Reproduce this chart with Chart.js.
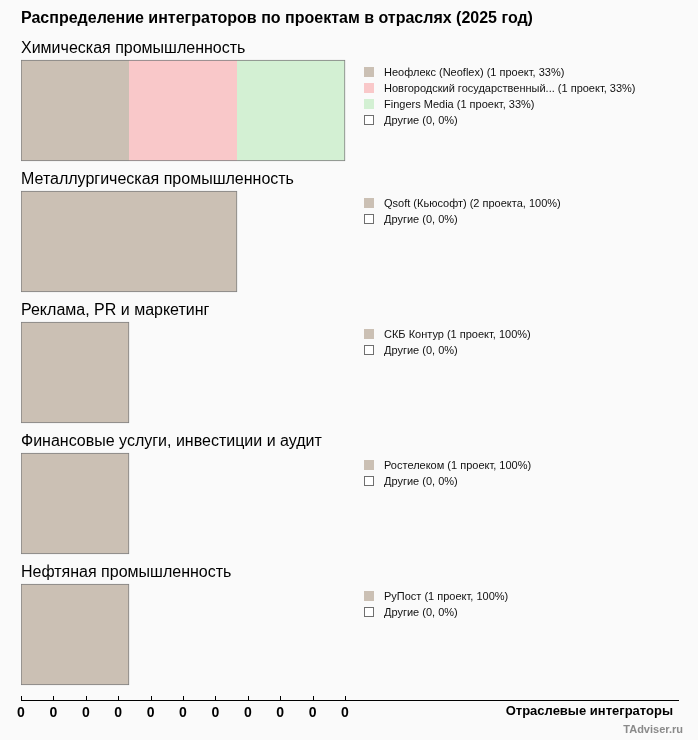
<!DOCTYPE html>
<html><head><meta charset="utf-8">
<script src="https://cdn.jsdelivr.net/npm/chart.js@4.4.1/dist/chart.umd.min.js"></script>
<style>
html,body{margin:0;padding:0;background:#fafafa;}
#wrap{position:relative;width:698px;height:740px;}
</style></head><body>
<div id="wrap"><canvas id="c" width="698" height="740"></canvas></div>
<script>
const chartTitle = 'Распределение интеграторов по проектам в отраслях (2025 год)';
const industries = [
  'Химическая промышленность',
  'Металлургическая промышленность',
  'Реклама, PR и маркетинг',
  'Финансовые услуги, инвестиции и аудит',
  'Нефтяная промышленность'
];
const integratorNames = [
  ['Неофлекс (Neoflex)', 'Новгородский государственный...', 'Fingers Media'],
  ['Qsoft (Кьюсофт)'],
  ['СКБ Контур'],
  ['Ростелеком'],
  ['РуПост']
];
const integratorProjects = [
  [1, 1, 1],
  [2],
  [1],
  [1],
  [1]
];
const otherLabel = 'Другие';
const otherProjects = [0, 0, 0, 0, 0];
const slotColors = ['#cbc0b4', '#f9c8c9', '#d3f0d3'];
const xTickValues = [0, 0.3, 0.6, 0.9, 1.2, 1.5, 1.8, 2.1, 2.4, 2.7, 3];
const xTickLabels = ['0', '0', '0', '0', '0', '0', '0', '0', '0', '0', '0'];
const xAxisTitle = 'Отраслевые интеграторы';
const creditText = 'TAdviser.ru';

const FONT = '"Liberation Sans", Arial, sans-serif';
Chart.defaults.font.family = FONT;

function plural(n) {
  const m10 = n % 10, m100 = n % 100;
  if (m10 === 1 && m100 !== 11) return 'проект';
  if (m10 >= 2 && m10 <= 4 && (m100 < 12 || m100 > 14)) return 'проекта';
  return 'проектов';
}

const maxSlots = Math.max(...integratorProjects.map(a => a.length));
const datasets = [];
for (let k = 0; k < maxSlots; k++) {
  datasets.push({
    label: 'slot' + k,
    data: integratorProjects.map(a => (a[k] !== undefined ? a[k] : null)),
    backgroundColor: slotColors[k],
    borderColor: '#7f7f7f',
    borderSkipped: false,
    borderWidth: (ctx) => {
      const i = ctx.dataIndex;
      const last = integratorProjects[i] ? integratorProjects[i].length - 1 : 0;
      return { top: 1, bottom: 1, left: k === 0 ? 1 : 0, right: k === last ? 1 : 0 };
    },
    barThickness: 101
  });
}

const decor = {
  id: 'decor',
  afterDraw(chart) {
    const ctx = chart.ctx;
    const xs = chart.scales.x;
    const area = chart.chartArea;
    ctx.save();
    // title
    ctx.fillStyle = '#000';
    ctx.font = 'bold 16px ' + FONT;
    ctx.textBaseline = 'alphabetic';
    ctx.textAlign = 'left';
    ctx.fillText(chartTitle, area.left, 23);

    const meta = chart.getDatasetMeta(0);
    industries.forEach((name, i) => {
      const el = meta.data[i];
      const top = el.y - el.height / 2;
      ctx.font = '16px ' + FONT;
      ctx.fillStyle = '#000';
      ctx.textAlign = 'left';
      ctx.textBaseline = 'alphabetic';
      ctx.fillText(name, area.left, top - 7);

      const total = integratorProjects[i].reduce((a, b) => a + b, 0) + otherProjects[i];
      const rows = integratorNames[i].map((n, k) => {
        const p = integratorProjects[i][k];
        return { text: `${n} (${p} ${plural(p)}, ${Math.round(p / total * 100)}%)`, color: slotColors[k] };
      });
      rows.push({ text: `${otherLabel} (${otherProjects[i]}, ${Math.round(otherProjects[i] / total * 100)}%)`, color: null });
      const lx = area.left + 343;
      rows.forEach((r, j) => {
        const cy = Math.round(top + 12 + 16 * j);
        if (r.color) {
          ctx.fillStyle = r.color;
          ctx.fillRect(lx, cy - 5, 10, 10);
        } else {
          ctx.fillStyle = '#ffffff';
          ctx.fillRect(lx, cy - 5, 10, 10);
          ctx.strokeStyle = '#6f6f6f';
          ctx.lineWidth = 1;
          ctx.strokeRect(lx + 0.5, cy - 4.5, 9, 9);
        }
        ctx.fillStyle = '#111';
        ctx.font = '11px ' + FONT;
        ctx.textBaseline = 'middle';
        ctx.fillText(r.text, lx + 20, cy + 0.5);
      });
    });

    // upward tick marks
    ctx.strokeStyle = '#000';
    ctx.lineWidth = 1;
    xTickValues.forEach(v => {
      const x = Math.round(xs.getPixelForValue(v)) + 0.5;
      ctx.beginPath();
      ctx.moveTo(x, area.bottom);
      ctx.lineTo(x, area.bottom - 4);
      ctx.stroke();
    });

    // axis title
    ctx.fillStyle = '#000';
    ctx.font = 'bold 13px ' + FONT;
    ctx.textAlign = 'right';
    ctx.textBaseline = 'alphabetic';
    ctx.fillText(xAxisTitle, 673, area.bottom + 15);

    ctx.fillStyle = '#8a8a8a';
    ctx.font = 'bold 11px ' + FONT;
    ctx.fillText(creditText, 683, area.bottom + 33);
    ctx.restore();
  }
};

new Chart(document.getElementById('c'), {
  type: 'bar',
  data: { labels: industries, datasets },
  options: {
    indexAxis: 'y',
    responsive: false,
    animation: false,
    devicePixelRatio: 1,
    layout: { padding: { left: 21, right: 20, top: 45, bottom: 0 } },
    plugins: { legend: { display: false }, title: { display: false }, tooltip: { enabled: false } },
    scales: {
      x: {
        stacked: true,
        min: 0,
        max: 6.083,
        position: 'bottom',
        afterFit(s) { s.height = 40; },
        afterBuildTicks(s) { s.ticks = xTickValues.map(v => ({ value: v })); },
        ticks: {
          autoSkip: false,
          maxRotation: 0,
          padding: 5,
          color: '#000',
          font: { weight: 'bold', size: 14 },
          callback: (v, i) => xTickLabels[i]
        },
        grid: { display: false, drawTicks: false, drawOnChartArea: false },
        border: { display: true, color: '#000', width: 1 }
      },
      y: { stacked: true, display: false, offset: true }
    }
  },
  plugins: [decor]
});
</script>
</body></html>
